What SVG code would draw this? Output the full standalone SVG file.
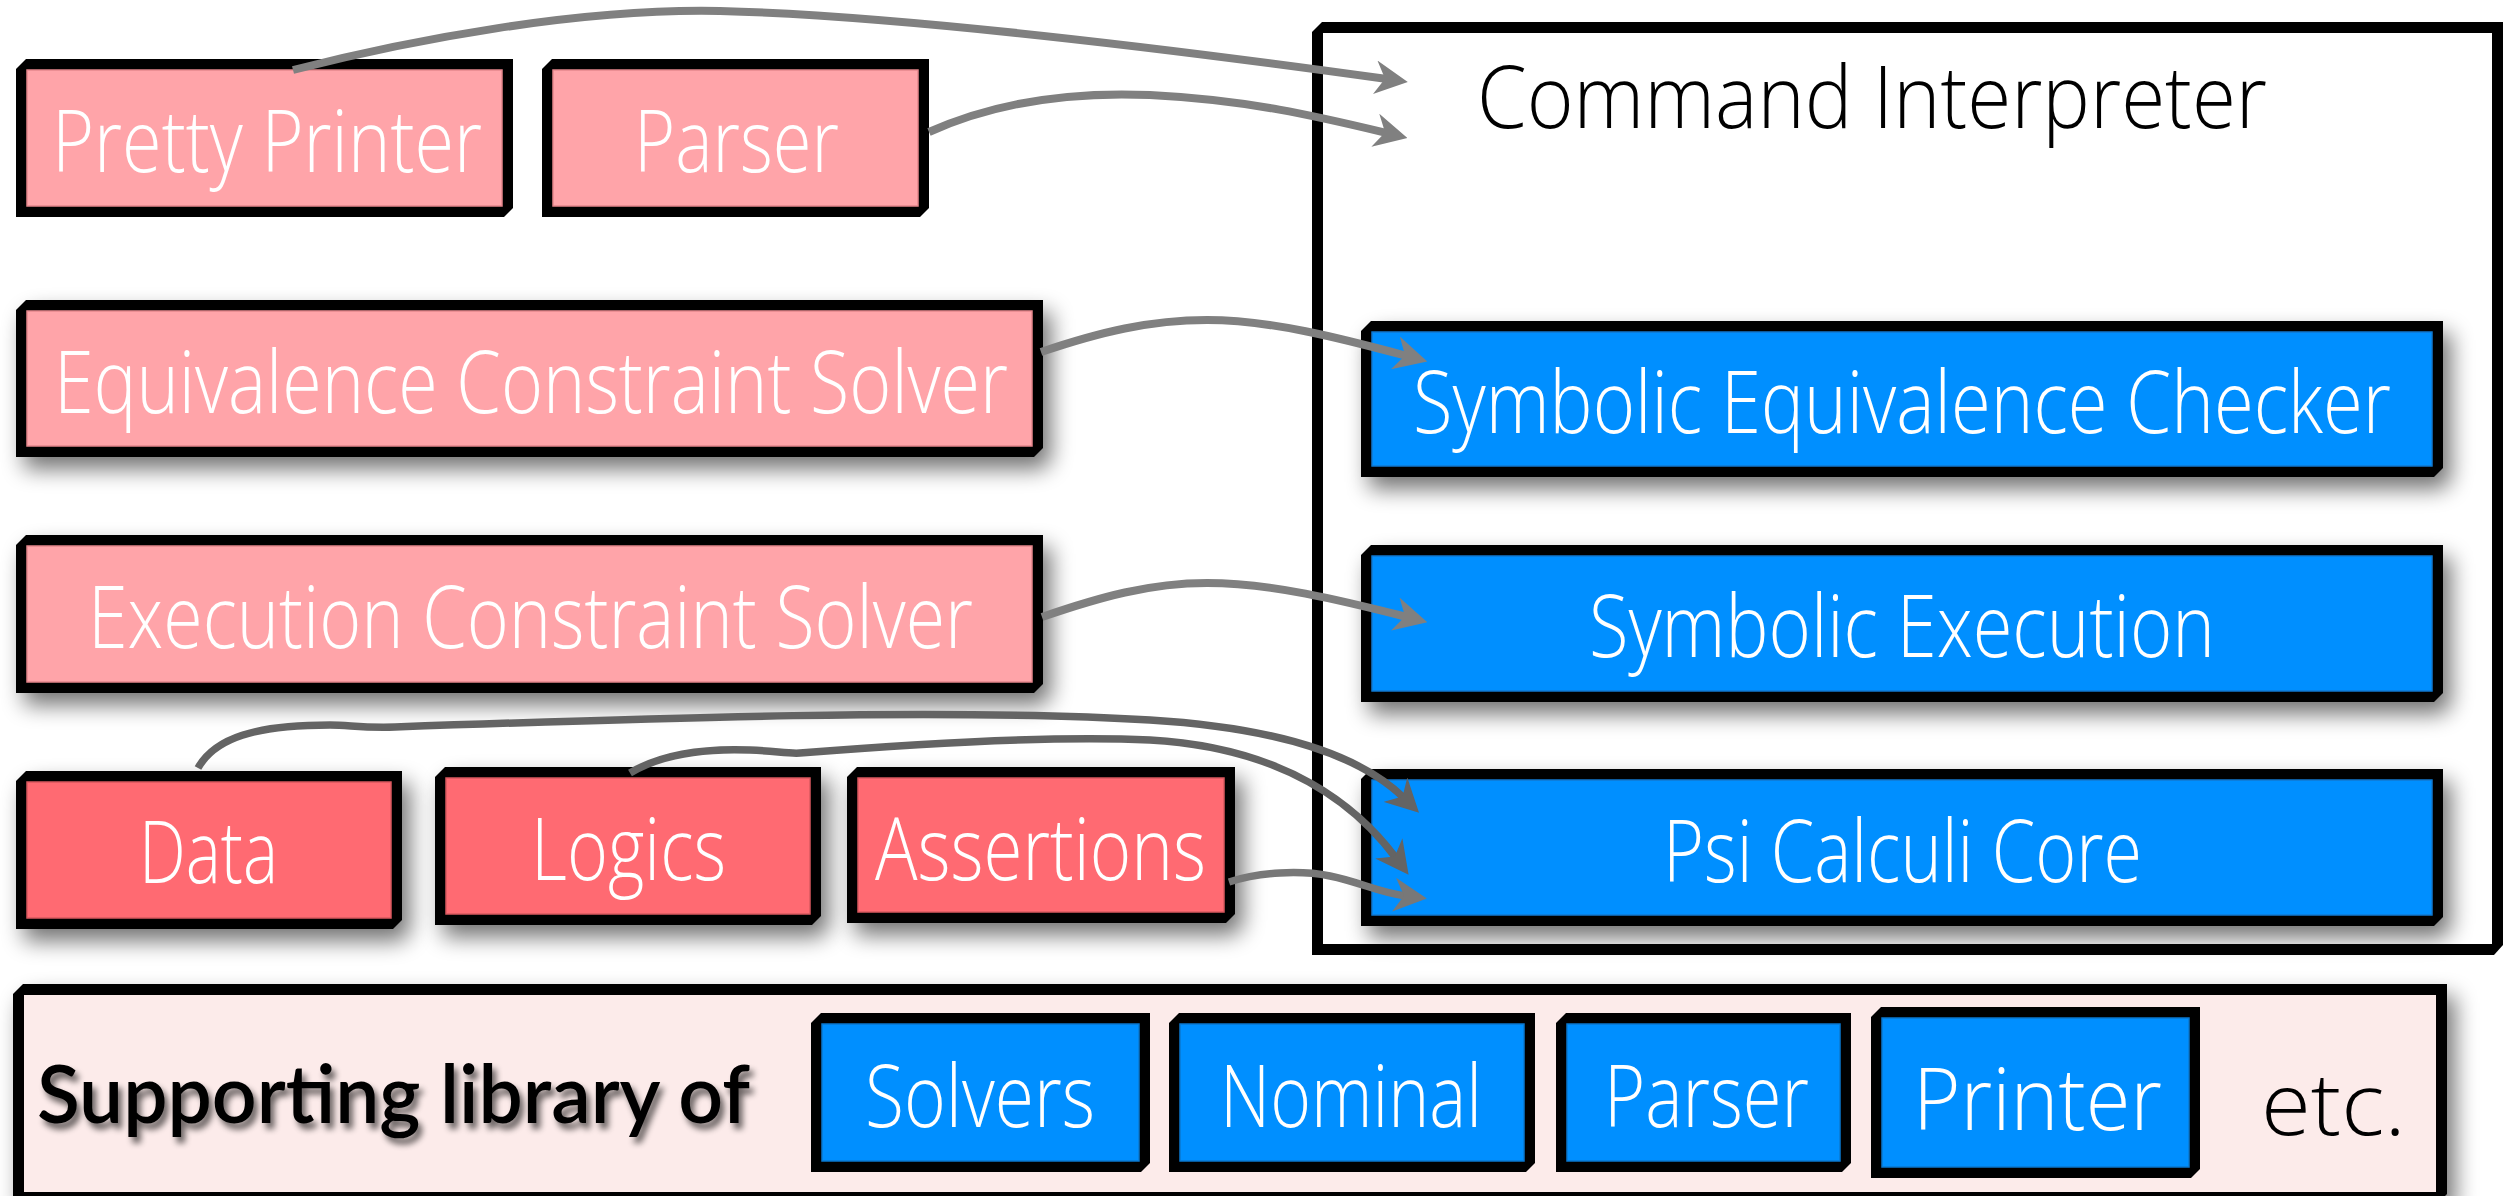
<svg xmlns="http://www.w3.org/2000/svg" width="2517" height="1196" viewBox="0 0 2517 1196">
  <style>
    .frame{fill:#000}
    .pk{fill:#FFA4A9;stroke:#E5868C;stroke-width:1.5}
    .rd{fill:#FF6B72;stroke:#D9585F;stroke-width:1.5}
    .bl{fill:#008FFF;stroke:#0A78D0;stroke-width:1.5}
    .wh{fill:#fff}
    .lib{fill:#FCEBEA}
    .lbl{font-family:"Open Sans","Lato","DejaVu Sans",sans-serif;font-weight:300;font-size:86px;fill:#fff}
    .blk{fill:#000}
    .conn{fill:none;stroke-width:8}
    .c-l{stroke:#808080}
    .c-d{stroke:#646464;stroke-width:7.5}
    .c-m{stroke:#787878;stroke-width:7.5}
  </style>
  <defs>
    <filter id="shadow" x="-15%" y="-30%" width="135%" height="175%">
      <feGaussianBlur in="SourceAlpha" stdDeviation="11"/>
      <feOffset dx="8" dy="12"/>
      <feComponentTransfer><feFuncA type="linear" slope="0.55"/></feComponentTransfer>
      <feMerge><feMergeNode/><feMergeNode in="SourceGraphic"/></feMerge>
    </filter>
    <filter id="tshadow" x="-5%" y="-20%" width="115%" height="150%">
      <feGaussianBlur in="SourceAlpha" stdDeviation="3"/>
      <feOffset dx="4" dy="6"/>
      <feComponentTransfer><feFuncA type="linear" slope="0.6"/></feComponentTransfer>
      <feMerge><feMergeNode/><feMergeNode in="SourceGraphic"/></feMerge>
    </filter>
    <marker id="ah-l" viewBox="0 0 33 34" refX="12" refY="17" markerWidth="33" markerHeight="34" markerUnits="userSpaceOnUse" orient="auto">
      <path d="M0,0 L33,17 L0,34 L10,17 Z" fill="#808080"/>
    </marker>
    <marker id="ah-d" viewBox="0 0 33 34" refX="12" refY="17" markerWidth="33" markerHeight="34" markerUnits="userSpaceOnUse" orient="auto">
      <path d="M0,0 L33,17 L0,34 L10,17 Z" fill="#646464"/>
    </marker>
    <marker id="ah-m" viewBox="0 0 33 34" refX="12" refY="17" markerWidth="33" markerHeight="34" markerUnits="userSpaceOnUse" orient="auto">
      <path d="M0,0 L33,17 L0,34 L10,17 Z" fill="#787878"/>
    </marker>
  </defs>

  <rect width="2517" height="1196" fill="#fff"/>

  <!-- Command interpreter container -->
  <g id="command-interpreter">
    <path class="frame" d="M1312,32 L1322,22 L2503,22 L2503,945 L2494,955 L1312,955 Z"/>
    <rect class="wh" x="1323" y="33" width="1169" height="911"/>
    <text class="lbl blk" x="1477" y="128" font-size="96" textLength="790" lengthAdjust="spacingAndGlyphs">Command Interpreter</text>
  </g>

  <!-- Front-end modules -->
  <g id="pretty-printer">
    <path class="frame" d="M16,69 L26,59 L513,59 L513,208 L504,217 L16,217 Z"/>
    <rect class="pk" x="27" y="70" width="475" height="136"/>
    <text class="lbl" x="52" y="172" textLength="430" lengthAdjust="spacingAndGlyphs">Pretty Printer</text>
  </g>
  <g id="parser">
    <path class="frame" d="M542,69 L552,59 L929,59 L929,208 L920,217 L542,217 Z"/>
    <rect class="pk" x="553" y="70" width="365" height="136"/>
    <text class="lbl" x="634" y="172" textLength="205" lengthAdjust="spacingAndGlyphs">Parser</text>
  </g>

  <g id="equivalence-solver" filter="url(#shadow)">
    <path class="frame" d="M16,310 L26,300 L1043,300 L1043,448 L1034,457 L16,457 Z"/>
    <rect class="pk" x="27" y="311" width="1005" height="135"/>
    <text class="lbl" x="54" y="413" textLength="954" lengthAdjust="spacingAndGlyphs">Equivalence Constraint Solver</text>
  </g>
  <g id="execution-solver" filter="url(#shadow)">
    <path class="frame" d="M16,545 L26,535 L1043,535 L1043,684 L1034,693 L16,693 Z"/>
    <rect class="pk" x="27" y="546" width="1005" height="136"/>
    <text class="lbl" x="88" y="648" textLength="885" lengthAdjust="spacingAndGlyphs">Execution Constraint Solver</text>
  </g>

  <g id="data" filter="url(#shadow)">
    <path class="frame" d="M16,781 L26,771 L402,771 L402,920 L393,929 L16,929 Z"/>
    <rect class="rd" x="27" y="782" width="364" height="136"/>
    <text class="lbl" x="139" y="883" textLength="139" lengthAdjust="spacingAndGlyphs">Data</text>
  </g>
  <g id="logics" filter="url(#shadow)">
    <path class="frame" d="M435,777 L445,767 L821,767 L821,916 L812,925 L435,925 Z"/>
    <rect class="rd" x="446" y="778" width="364" height="136"/>
    <text class="lbl" x="531" y="880" textLength="195" lengthAdjust="spacingAndGlyphs">Logics</text>
  </g>
  <g id="assertions" filter="url(#shadow)">
    <path class="frame" d="M847,777 L857,767 L1235,767 L1235,914 L1226,923 L847,923 Z"/>
    <rect class="rd" x="858" y="778" width="366" height="134"/>
    <text class="lbl" x="875" y="880" textLength="331" lengthAdjust="spacingAndGlyphs">Assertions</text>
  </g>

  <!-- Core components -->
  <g id="equivalence-checker" filter="url(#shadow)">
    <path class="frame" d="M1361,331 L1371,321 L2443,321 L2443,468 L2434,477 L1361,477 Z"/>
    <rect class="bl" x="1372" y="332" width="1060" height="134"/>
    <text class="lbl" x="1413" y="433" textLength="978" lengthAdjust="spacingAndGlyphs">Symbolic Equivalence Checker</text>
  </g>
  <g id="symbolic-execution" filter="url(#shadow)">
    <path class="frame" d="M1361,555 L1371,545 L2443,545 L2443,693 L2434,702 L1361,702 Z"/>
    <rect class="bl" x="1372" y="556" width="1060" height="135"/>
    <text class="lbl" x="1589" y="657" textLength="626" lengthAdjust="spacingAndGlyphs">Symbolic Execution</text>
  </g>
  <g id="psi-core" filter="url(#shadow)">
    <path class="frame" d="M1361,779 L1371,769 L2443,769 L2443,917 L2434,926 L1361,926 Z"/>
    <rect class="bl" x="1372" y="780" width="1060" height="135"/>
    <text class="lbl" x="1663" y="882" textLength="479" lengthAdjust="spacingAndGlyphs">Psi Calculi Core</text>
  </g>

  <!-- Supporting library -->
  <g id="library" filter="url(#shadow)">
    <path class="frame" d="M13,994 L23,984 L2447,984 L2447,1194 L2438,1203 L13,1203 Z"/>
    <rect class="lib" x="24" y="995" width="2412" height="197"/>
  </g>
  <g id="library-label" filter="url(#tshadow)">
    <text x="37" y="1123" font-family="Lato,'Open Sans','DejaVu Sans',sans-serif" font-weight="600" font-size="81" fill="#000" textLength="713" lengthAdjust="spacingAndGlyphs">Supporting library of</text>
  </g>
  <g id="lib-solvers">
    <path class="frame" d="M811,1023 L821,1013 L1150,1013 L1150,1163 L1141,1172 L811,1172 Z"/>
    <rect class="bl" x="822" y="1024" width="317" height="137"/>
    <text class="lbl" x="865" y="1127" textLength="230" lengthAdjust="spacingAndGlyphs">Solvers</text>
  </g>
  <g id="lib-nominal">
    <path class="frame" d="M1169,1023 L1179,1013 L1535,1013 L1535,1163 L1526,1172 L1169,1172 Z"/>
    <rect class="bl" x="1180" y="1024" width="344" height="137"/>
    <text class="lbl" x="1220" y="1127" textLength="262" lengthAdjust="spacingAndGlyphs">Nominal</text>
  </g>
  <g id="lib-parser">
    <path class="frame" d="M1556,1023 L1566,1013 L1851,1013 L1851,1163 L1842,1172 L1556,1172 Z"/>
    <rect class="bl" x="1567" y="1024" width="273" height="137"/>
    <text class="lbl" x="1604" y="1127" textLength="205" lengthAdjust="spacingAndGlyphs">Parser</text>
  </g>
  <g id="lib-printer">
    <path class="frame" d="M1871,1017 L1881,1007 L2200,1007 L2200,1169 L2191,1178 L1871,1178 Z"/>
    <rect class="bl" x="1882" y="1018" width="307" height="149"/>
    <text class="lbl" x="1913" y="1130" font-size="95" textLength="249" lengthAdjust="spacingAndGlyphs">Printer</text>
  </g>
  <g id="lib-etc">
    <text class="lbl blk" x="2261" y="1135" font-size="92" textLength="145" lengthAdjust="spacingAndGlyphs">etc.</text>
  </g>

  <!-- Connectors -->
  <g id="connectors">
    <path class="conn c-l" marker-end="url(#ah-l)" d="M293,70 C410,40 580,8 720,11 C920,16 1250,60 1387,79"/>
    <path class="conn c-l" marker-end="url(#ah-l)" d="M929,132 C1000,100 1080,92 1150,95 C1250,100 1320,117 1387,133"/>
    <path class="conn c-l" marker-end="url(#ah-l)" d="M1041,352 C1100,332 1150,320 1207,320 C1270,320 1340,338 1407,356"/>
    <path class="conn c-l" marker-end="url(#ah-l)" d="M1042,617 C1100,597 1150,583 1207,583 C1270,583 1340,600 1407,617"/>
    <path class="conn c-d" marker-end="url(#ah-d)" d="M198,768 C215,738 255,725 330,725 C350,725 360,728 395,727 C650,718 950,708 1150,720 C1280,728 1360,755 1404,798"/>
    <path class="conn c-d" marker-end="url(#ah-d)" d="M630,773 C660,755 700,748 750,750 C775,751 790,754 800,753 C900,745 1050,735 1150,740 C1290,748 1360,810 1396,858"/>
    <path class="conn c-m" marker-end="url(#ah-m)" d="M1229,882 C1260,872 1300,870 1330,876 C1360,882 1380,893 1406,896"/>
  </g>
</svg>
